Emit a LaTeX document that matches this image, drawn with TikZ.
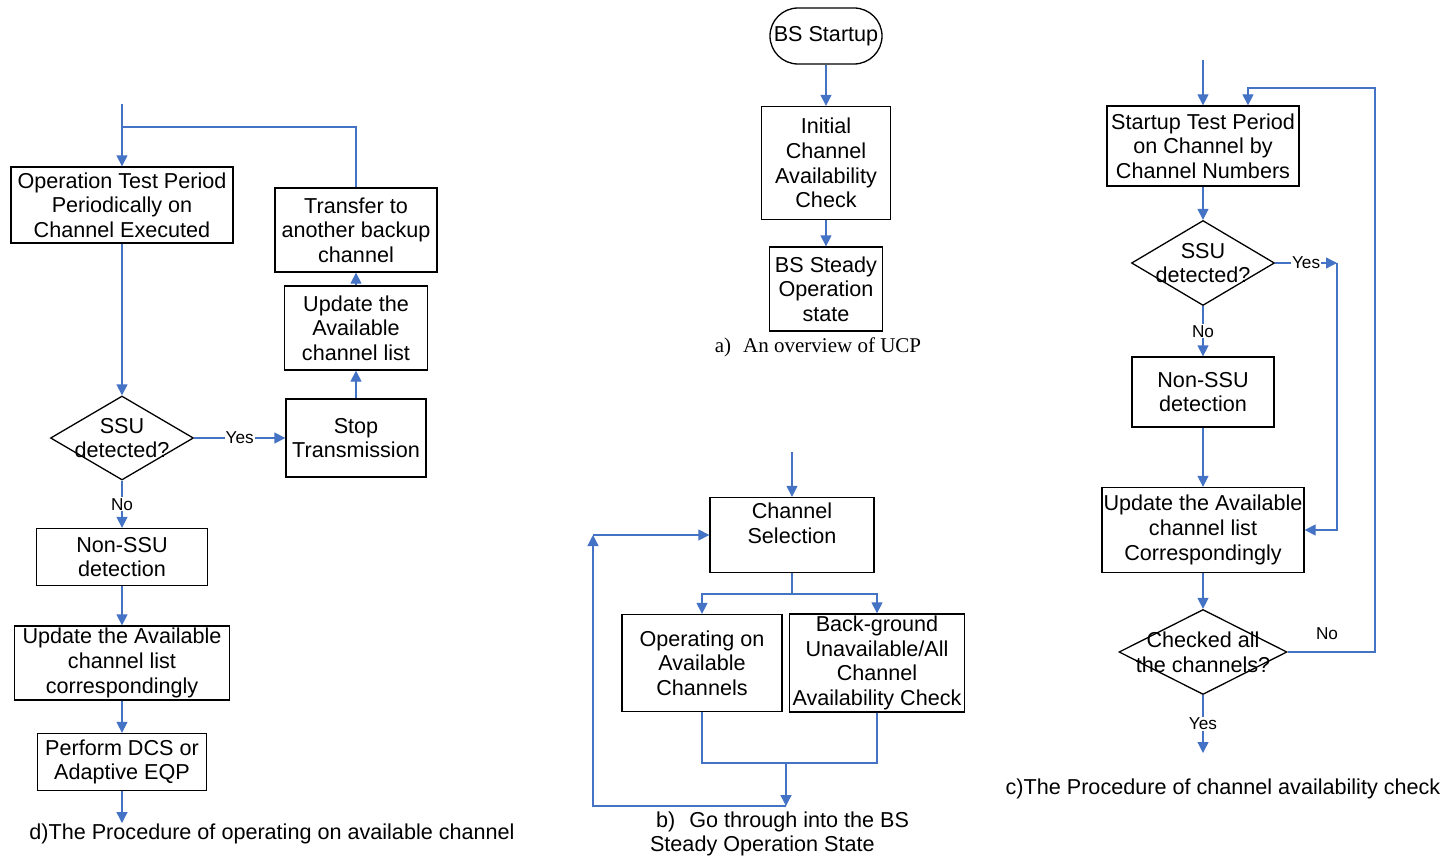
\documentclass[tikz,border=0pt]{standalone}
\usepackage{fontspec}
\setmainfont{Liberation Sans}
\newfontfamily\capserif{Liberation Serif}
\usetikzlibrary{arrows.meta,shapes.geometric}
\newlength\px
\setlength\px{0.5pt}
\definecolor{lblue}{HTML}{4472C4}
\tikzset{
  txt/.style={font=\fontsize{10.8}{12.3}\selectfont, align=center},
  box/.style={draw=black, line width=0.65pt, rectangle, inner sep=0pt, txt},
  dia/.style={draw=black, line width=0.65pt, diamond, inner sep=0pt},
  conn/.style={draw=lblue, line width=0.65pt},
  arr/.style={conn, -{Triangle[length=5.5pt,width=5.5pt]}},
  lbl/.style={font=\fontsize{8.6}{10}\selectfont, fill=white, inner sep=0.5pt},
  captxt/.style={font=\fontsize{10.8}{12.3}\selectfont}
}
\begin{document}
\begin{tikzpicture}[x=0.5pt,y=-0.5pt]
\useasboundingbox (0,0) rectangle (1456,856);

% ---------------- d) ----------------
\node[box, minimum width=222\px, minimum height=76\px] (opd) at (122,205) {Operation Test Period\\Periodically on\\Channel Executed};
\node[box, minimum width=162\px, minimum height=84\px] (trd) at (356,230) {Transfer to\\another backup\\channel};
\node[box, minimum width=143\px, minimum height=84\px] (upr) at (356,328) {Update the\\Available\\channel list};
\node[box, minimum width=140\px, minimum height=78\px] (stp) at (356,438) {Stop\\Transmission};
\node[dia, minimum width=143\px, minimum height=84\px,
      label={[txt]center:SSU\\detected?}] (ssud) at (122,438) {};
\node[box, minimum width=171\px, minimum height=57\px] (nsd) at (122,557) {Non-SSU\\detection};
\node[box, minimum width=215\px, minimum height=74\px] (upd) at (122,663) {Update the Available\\channel list\\correspondingly};
\node[box, minimum width=169\px, minimum height=57\px] (pfd) at (122,762) {Perform DCS or\\Adaptive EQP};
\node[captxt] (capd) at (272,834) {d)The Procedure of operating on available channel};

\coordinate (ind) at (122,104);
\coordinate (jd) at (122,127);
\coordinate (outd) at (122,823);
\draw[arr] (ind) -- (opd.north);
\draw[conn] (trd.north) |- (jd);
\draw[arr] (opd.south) -- (ssud.north);
\draw[arr] (ssud.east) -- node[lbl]{Yes} (stp.west);
\draw[arr] (stp.north) -- (upr.south);
\draw[arr] (upr.north) -- (trd.south);
\draw[arr] (ssud.south) -- node[lbl]{No} (nsd.north);
\draw[arr] (nsd.south) -- (upd.north);
\draw[arr] (upd.south) -- (pfd.north);
\draw[arr] (pfd.south) -- (outd);

% ---------------- a) ----------------
\node[box, minimum width=112\px, minimum height=56\px, rounded corners=14pt] (bss) at (826,36) {BS Startup};
\node[box, minimum width=129\px, minimum height=113\px] (ini) at (826,163) {Initial\\Channel\\Availability\\Check};
\node[box, minimum width=113\px, minimum height=84\px] (bst) at (826,289) {BS Steady\\Operation\\state};
\node[font=\capserif\fontsize{10.5}{12.25}\selectfont] (capa) at (818,347) {a)\hspace{6pt}An overview of UCP};
\draw[arr] (bss.south) -- (ini.north);
\draw[arr] (ini.south) -- (bst.north);

% ---------------- b) ----------------
\node[box, minimum width=164\px, minimum height=75\px,
      label={[txt, anchor=north, inner sep=0pt, yshift=-6\px]north:Channel\\Selection}] (cs) at (792,535) {};
\node[box, minimum width=160\px, minimum height=97\px] (op) at (702,663) {Operating on\\Available\\Channels};
\node[box, minimum width=175\px, minimum height=98\px] (bg) at (877,663) {Back-ground\\Unavailable/All\\Channel\\Availability Check};
\node[captxt, align=left, anchor=west] (capb) at (643,834) {\hspace*{3pt}b)\hspace{7pt}Go through into the BS\\Steady Operation State};

\coordinate (inb) at (792,452);
\coordinate (sp) at (792,594);
\coordinate (mg) at (786,763);
\coordinate (bo) at (786,806);
\coordinate (lc) at (593,535);
\draw[arr] (inb) -- (cs.north);
\draw[conn] (cs.south) -- (sp);
\draw[arr] (sp) -| (op.north);
\draw[arr] (sp) -| (bg.north);
\draw[conn] (op.south) |- (bg.south |- mg) -- (bg.south);
\draw[arr] (mg) -- (bo);
\draw[arr] (bo) -| (lc);
\draw[arr] (lc) -- (cs.west);

% ---------------- c) ----------------
\node[box, minimum width=192\px, minimum height=80\px] (stc) at (1203,146) {Startup Test Period\\on Channel by\\Channel Numbers};
\node[dia, minimum width=143\px, minimum height=85\px,
      label={[txt]center:SSU\\detected?}] (ssuc) at (1203,263) {};
\node[box, minimum width=142\px, minimum height=70\px] (nsc) at (1203,392) {Non-SSU\\detection};
\node[box, minimum width=202\px, minimum height=85\px] (upc) at (1203,530) {Update the Available\\channel list\\Correspondingly};
\node[dia, minimum width=168\px, minimum height=85\px,
      label={[txt]center:Checked all\\the channels?}] (chk) at (1203,652) {};
\node[lbl, fill=none] (noc) at (1327,634) {No};
\node[captxt] (capc) at (1223,789) {c)The Procedure of channel availability check};

\coordinate (inc) at (1203,60);
\coordinate (yc) at (1337,263);
\coordinate (cr) at (1375,88);
\coordinate (lt) at (1248,88);
\coordinate (outc) at (1203,753);
\draw[arr] (inc) -- (stc.north);
\draw[arr] (stc.south) -- (ssuc.north);
\draw[arr] (ssuc.east) -- node[lbl]{Yes} (yc);
\draw[arr] (yc) |- (upc.east);
\draw[arr] (ssuc.south) -- node[lbl]{No} (nsc.north);
\draw[arr] (nsc.south) -- (upc.north);
\draw[arr] (upc.south) -- (chk.north);
\draw[arr] (chk.south) -- node[lbl]{Yes} (outc);
\draw[arr] (chk.east) -| (cr) -- (lt) -- (lt |- stc.north);
\end{tikzpicture}
\end{document}
